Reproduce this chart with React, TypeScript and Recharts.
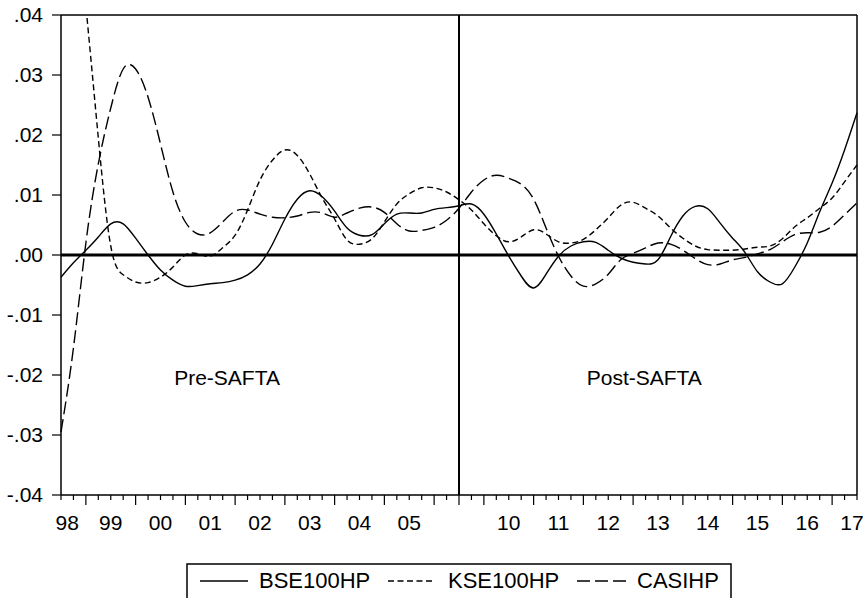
import React from 'react';
import { LineChart, Line, XAxis, YAxis, ReferenceLine, ReferenceDot } from 'recharts';

const FONT = '"Liberation Sans", Arial, sans-serif';

// quarterly observations: pre-SAFTA 1998Q3-2006Q2, post-SAFTA 2009Q3-2017Q3
const periods = [
  '1998Q3', '1998Q4', '1999Q1', '1999Q2', '1999Q3', '1999Q4', '2000Q1', '2000Q2', '2000Q3', '2000Q4',
  '2001Q1', '2001Q2', '2001Q3', '2001Q4', '2002Q1', '2002Q2', '2002Q3', '2002Q4', '2003Q1', '2003Q2',
  '2003Q3', '2003Q4', '2004Q1', '2004Q2', '2004Q3', '2004Q4', '2005Q1', '2005Q2', '2005Q3', '2005Q4',
  '2006Q1', '2006Q2',
  '2009Q3', '2009Q4', '2010Q1', '2010Q2', '2010Q3', '2010Q4', '2011Q1', '2011Q2', '2011Q3', '2011Q4',
  '2012Q1', '2012Q2', '2012Q3', '2012Q4', '2013Q1', '2013Q2', '2013Q3', '2013Q4', '2014Q1', '2014Q2',
  '2014Q3', '2014Q4', '2015Q1', '2015Q2', '2015Q3', '2015Q4', '2016Q1', '2016Q2', '2016Q3', '2016Q4',
  '2017Q1', '2017Q2', '2017Q3',
];

const bse100hp = [
  -0.0037, -0.0013, 0.0008, 0.003, 0.0052, 0.0052, 0.0028, 0.0, -0.0025, -0.0042,
  -0.0052, -0.0051, -0.0048, -0.0046, -0.0042, -0.0033, -0.0015, 0.0018, 0.006, 0.0093,
  0.0107, 0.0097, 0.0073, 0.0045, 0.0033, 0.0034, 0.0052, 0.0068, 0.007, 0.007,
  0.0076, 0.0079, 0.0082, 0.0085, 0.0068, 0.0035, -0.0002, -0.0035, -0.0055, -0.0032,
  -0.0002, 0.0015, 0.0022, 0.0021, 0.0008, -0.0005, -0.0012, -0.0015, -0.0008, 0.003,
  0.0065, 0.0081, 0.0077, 0.0053, 0.0028, 0.0004, -0.0028, -0.0045, -0.0048, -0.002,
  0.002, 0.0072, 0.012, 0.0175, 0.0237,
];

const kse100hp = [
  0.082, 0.062, 0.0415, 0.0195, 0.0015, -0.0033, -0.0045, -0.0046, -0.0037, -0.002,
  0.0, 0.0002, -0.0002, 0.0012, 0.0033, 0.0075, 0.0125, 0.0158, 0.0175, 0.0166,
  0.0135, 0.0095, 0.006, 0.0025, 0.0018, 0.0027, 0.0055, 0.0085, 0.0102, 0.0112,
  0.0112, 0.0105, 0.0092, 0.0075, 0.0052, 0.0032, 0.0022, 0.003, 0.0042, 0.0035,
  0.0022, 0.002, 0.0026, 0.0042, 0.0062, 0.0083, 0.0088, 0.0078, 0.0065, 0.0045,
  0.0028, 0.0015, 0.0009, 0.0008, 0.0008, 0.001, 0.0013, 0.0015, 0.0027, 0.0047,
  0.0062, 0.0078, 0.0095, 0.0122, 0.015,
];

const casihp = [
  -0.0295, -0.0155, 0.002, 0.0152, 0.0245, 0.031, 0.031, 0.0263, 0.0185, 0.0105,
  0.0055, 0.0035, 0.0037, 0.0055, 0.0073, 0.0075, 0.0068, 0.0063, 0.0062, 0.0065,
  0.0071, 0.007, 0.0063, 0.007, 0.0078, 0.008, 0.0071, 0.0052, 0.004, 0.0041,
  0.0046, 0.0058, 0.0078, 0.0105, 0.0125, 0.0133, 0.0128, 0.0118, 0.0093, 0.0045,
  -0.0002, -0.0035, -0.0052, -0.0048, -0.0032, -0.0008, 0.0003, 0.0012, 0.002, 0.0018,
  0.0008, -0.0006, -0.0016, -0.0015, -0.0008, -0.0004, 0.0002, 0.0009, 0.0022, 0.0034,
  0.0037, 0.0038, 0.0048, 0.0067, 0.0087,
];

const yearLabels = ['98', '99', '00', '01', '02', '03', '04', '05', '10', '11', '12', '13', '14', '15', '16', '17'];
const labelPositions = [0.5, 4, 8, 12, 16, 20, 24, 28, 36, 40, 44, 48, 52, 56, 60, 63.6];
const yTicks = [-0.04, -0.03, -0.02, -0.01, 0, 0.01, 0.02, 0.03, 0.04];
const BREAK = 32;

const data = periods.map((p, i) => ({
  t: i,
  period: p,
  BSE100HP: bse100hp[i],
  KSE100HP: kse100hp[i],
  CASIHP: casihp[i],
}));

const xTicks = Array.from(new Set([...periods.map((_, i) => i), ...labelPositions])).sort((a, b) => a - b);

const fmtY = (v: number) => {
  const s = Math.abs(v).toFixed(2).replace(/^0/, '');
  return v < 0 ? '-' + s : s;
};

const XTick = (props: any) => {
  const { x, y, payload } = props;
  const v = payload.value;
  const idx = labelPositions.indexOf(v);
  const isQ = Number.isInteger(v);
  const major = isQ && (v === BREAK || (periods[v] || '').endsWith('Q1'));
  return (
    <g>
      {isQ && <line x1={x} y1={y} x2={x} y2={y + (major ? 10 : 5)} stroke="#000" strokeWidth={1.2} />}
      {idx >= 0 && (
        <text x={x} y={y + 35} textAnchor="middle" fontSize={21} fontFamily={FONT} fill="#000">
          {yearLabels[idx]}
        </text>
      )}
    </g>
  );
};

const series = [
  { key: 'BSE100HP', dash: undefined },
  { key: 'KSE100HP', dash: '6 3.5' },
  { key: 'CASIHP', dash: '13 5' },
];

const ChartLegend = () => {
  const items = [
    { line: [14, 62], text: 73 },
    { line: [202, 248], text: 262 },
    { line: [391, 440], text: 451 },
  ];
  return (
    <svg width={546} height={40} style={{ position: 'absolute', left: 186, top: 563 }}>
      <rect x={1} y={1} width={544} height={38} fill="#fff" stroke="#000" strokeWidth={1.5} />
      {series.map((s, i) => (
        <g key={s.key}>
          <line x1={items[i].line[0]} x2={items[i].line[1]} y1={18} y2={18} stroke="#000" strokeWidth={1.4} strokeDasharray={s.dash} />
          <text x={items[i].text} y={25} fontSize={22} fontFamily={FONT} fill="#000">{s.key}</text>
        </g>
      ))}
    </svg>
  );
};

export default function App() {
  return (
    <div style={{ position: 'absolute', left: 0, top: 0, width: 863, height: 598, background: '#fff', overflow: 'hidden' }}>
      <LineChart width={863} height={598} data={data} margin={{ top: 15, right: 6, bottom: 73, left: 0 }}>
        <XAxis
          dataKey="t"
          type="number"
          domain={[0, 64]}
          ticks={xTicks}
          interval={0}
          tickSize={0}
          tickMargin={0}
          tick={<XTick />}
          axisLine={{ stroke: '#000', strokeWidth: 1.5 }}
          height={30}
        />
        <YAxis
          type="number"
          domain={[-0.04, 0.04]}
          ticks={yTicks}
          interval={0}
          allowDataOverflow
          tickFormatter={fmtY}
          tickSize={9}
          tickMargin={9}
          width={61}
          tick={{ fill: '#000', fontSize: 21, fontFamily: FONT }}
          tickLine={{ stroke: '#000', strokeWidth: 1.2 }}
          axisLine={{ stroke: '#000', strokeWidth: 1.5 }}
        />
        <ReferenceLine y={0.04} stroke="#000" strokeWidth={1.5} />
        <ReferenceLine x={64} stroke="#000" strokeWidth={1.5} />
        {series.map((s) => (
          <Line
            key={s.key}
            type="natural"
            dataKey={s.key}
            stroke="#000"
            strokeWidth={1.4}
            strokeDasharray={s.dash}
            dot={false}
            activeDot={false}
            isAnimationActive={false}
          />
        ))}
        <ReferenceLine y={0} stroke="#000" strokeWidth={3} />
        <ReferenceLine x={BREAK} stroke="#000" strokeWidth={2} />
        <ReferenceDot
          x={13.35}
          y={-0.0205}
          r={0}
          fill="none"
          stroke="none"
          label={{ value: 'Pre-SAFTA', position: 'center', fill: '#000', fontSize: 21, fontFamily: FONT }}
        />
        <ReferenceDot
          x={46.9}
          y={-0.0205}
          r={0}
          fill="none"
          stroke="none"
          label={{ value: 'Post-SAFTA', position: 'center', fill: '#000', fontSize: 21, fontFamily: FONT }}
        />
      </LineChart>
      <ChartLegend />
    </div>
  );
}
